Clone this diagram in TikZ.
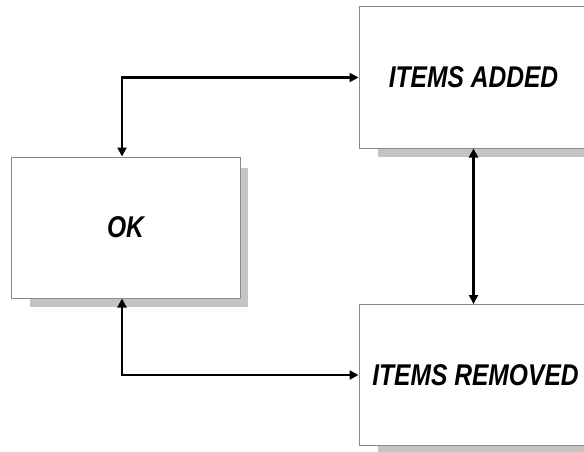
\documentclass[tikz,border=0pt]{standalone}
\usepackage{fontspec}
\setmainfont{Liberation Sans}
\usetikzlibrary{arrows.meta,backgrounds}
\definecolor{shadowgray}{HTML}{C4C4C4}
\definecolor{bordergray}{HTML}{8A8A8A}
\tikzset{
  statebox/.style={draw=bordergray, line width=1pt, fill=white, minimum width=229pt, minimum height=141pt, inner sep=0pt,
    font=\fontsize{30}{34}\selectfont\bfseries\itshape},
  boxshadow/.style={fill=shadowgray},
  conn/.style={line width=2.1pt, {Triangle[length=9pt,width=9pt]}-{Triangle[length=9pt,width=9pt]}}
}
\newcommand{\boxshadowof}[1]{\fill[boxshadow] ([shift={(19pt,-8pt)}]#1.south west) rectangle ([shift={(7pt,-11pt)}]#1.north east);}
\begin{document}
\begin{tikzpicture}[x=1pt,y=1pt]
\useasboundingbox (0,0) rectangle (584,451);
\clip (0,0) rectangle (584,451);
\node[statebox] (ok) at (125.5,223.5) {\scalebox{0.82}[1]{OK}};
\node[statebox] (added) at (473.5,373.5) {\scalebox{0.82}[1]{ITEMS ADDED}};
\node[statebox] (removed) at (473.5,76) {\hspace*{4pt}\scalebox{0.82}[1]{ITEMS REMOVED}};
\begin{scope}[on background layer]
\boxshadowof{ok}
\boxshadowof{added}
\boxshadowof{removed}
\end{scope}
\draw[conn] ([xshift=-3.5pt]ok.north) |- (added.west);
\draw[conn] ([xshift=-3.5pt]ok.south) |- (removed.west);
\draw[conn] (added.south) -- (removed.north);
\end{tikzpicture}
\end{document}
